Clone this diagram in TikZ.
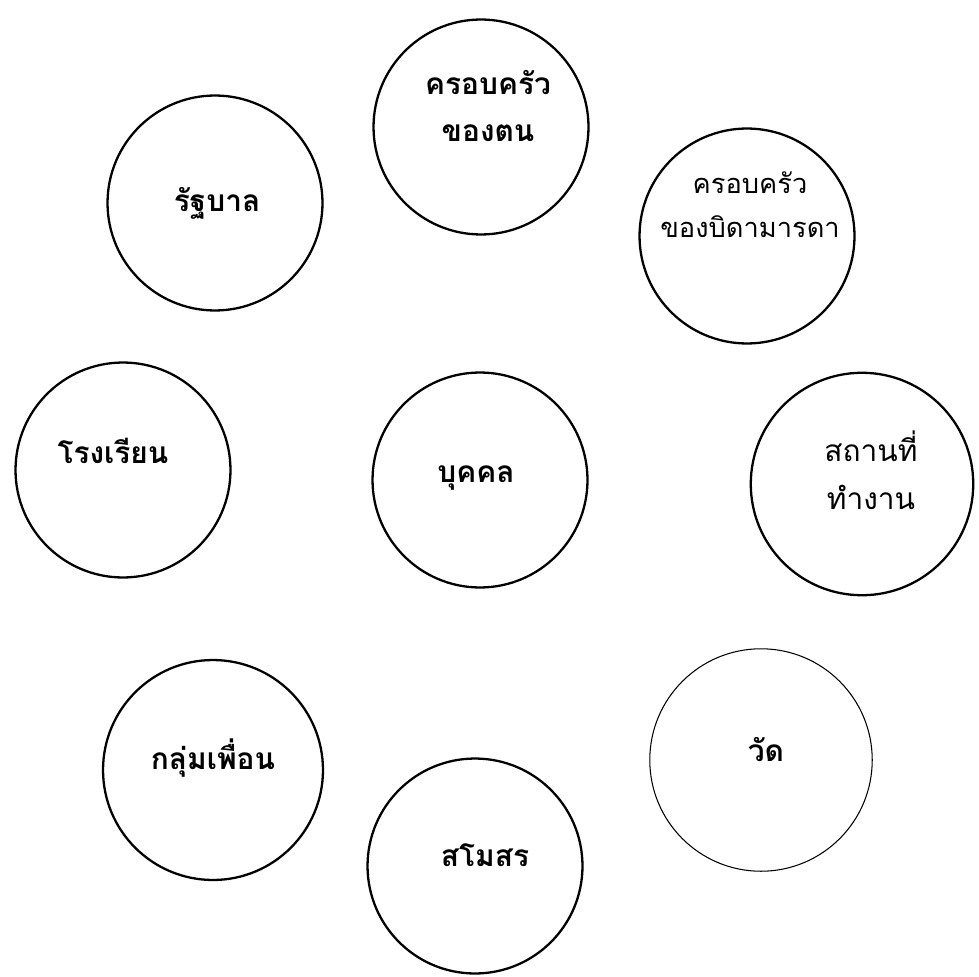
\documentclass[tikz,border=0pt]{standalone}
\usepackage{fontspec}
\newfontfamily\thaifont[Script=Thai]{Loma}
\usetikzlibrary{positioning}

\begin{document}
\begin{tikzpicture}[
		x=0.02cm, y=-0.02cm,
		font=\thaifont\fontsize{17}{27}\selectfont,
		% Styles
		ring/.style={draw=black, circle, line width=1.3pt, minimum size=4.3cm, inner sep=0pt},
		thinring/.style={ring, line width=0.6pt},
		ringtext/.style={align=center, font=\thaifont\bfseries\fontsize{17}{27}\selectfont},
		lighttext/.style={align=center}
		]
		
		\useasboundingbox (0,0) rectangle (979,976);
		
		% =========================================================
		% 1. TOP ROW
		% =========================================================
		\node[ring] (Own) at (481,127) {};
		\node[ringtext] (OwnT) at (488,106) {ครอบครัว\\ของตน};
		
		\node[ring] (Gov) at (215,203) {};
		\node[ringtext] (GovT) at (217,203) {รัฐบาล};
		
		\node[ring] (Par) at (747,236) {};
		\node[lighttext, font=\thaifont\fontsize{15.5}{25}\selectfont] (ParT) at (750,205) {ครอบครัว\\ของบิดามารดา};
		
		% =========================================================
		% 2. MIDDLE ROW: the person in the centre
		% =========================================================
		\node[ring] (Sch) at (123,470) {};
		\node[ringtext] (SchT) at (113,451) {โรงเรียน};
		
		\node[ring] (Per) at (480,480) {};
		\node[ringtext] (PerT) at (476,478) {บุคคล};
		
		\node[ring, minimum size=4.45cm] (Work) at (862,484) {};
		\node[lighttext] (WorkT) at (871,470) {สถานที่\\ทำงาน};
		
		% =========================================================
		% 3. BOTTOM ROW
		% =========================================================
		\node[ring, minimum size=4.4cm] (Frd) at (213,770) {};
		\node[ringtext] (FrdT) at (213,758) {กลุ่มเพื่อน};
		
		\node[thinring, minimum size=4.45cm] (Wat) at (761,760) {};
		\node[ringtext] (WatT) at (766,750) {วัด};
		
		\node[ring] (Club) at (475,866) {};
		\node[ringtext] (ClubT) at (485,855) {สโมสร};
		
	\end{tikzpicture}
\end{document}
